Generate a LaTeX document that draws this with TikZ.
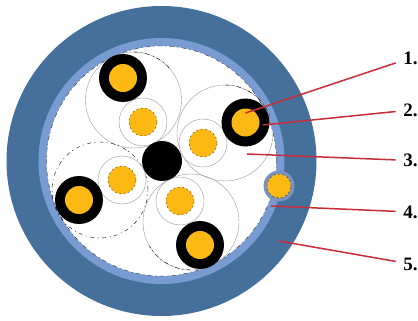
\documentclass[tikz,border=0pt]{standalone}
\usepackage{fontspec}
\setmainfont{Liberation Serif}
\definecolor{jacket}{RGB}{68,112,155}
\definecolor{shield}{RGB}{120,155,210}
\definecolor{core}{RGB}{253,185,19}
\definecolor{lead}{RGB}{200,45,55}
\tikzset{
  bundle/.style={draw=black!40,line width=0.4pt},
  bundledash/.style={draw=black,line width=0.4pt,dash pattern=on 4pt off 4pt on 1pt off 3pt},
  leadline/.style={draw=lead,line width=1.5pt},
  numlabel/.style={font=\bfseries\fontsize{19}{19}\selectfont,inner xsep=7.5pt,inner ysep=0pt},
}
\begin{document}
\begin{tikzpicture}[x=1pt,y=-1pt]
\useasboundingbox (0,0) rectangle (418,321);
\fill[white] (0,0) rectangle (418,321);
% Sheath
\coordinate (C) at (161.5,161);
\fill[jacket] (C) circle (155pt);
\fill[shield] (C) circle (123pt);
\fill[white] (C) circle (115pt);
\draw[bundledash,line width=0.3pt] (C) circle (115pt);
% Pair bundles
\draw[bundle] (133.5,100) circle (48pt);
\draw[bundle] (225,133) circle (48pt);
\draw[bundle] (191,222) circle (48pt);
\draw[bundledash] (100,190) circle (48pt);
\draw[bundledash] (225,85) arc (90:20:48pt);
\draw[bundledash] (133.5,52) arc (90:40:48pt);
\draw[bundledash] (191,270) arc (-90:-150:48pt);
% Insulated wires
\foreach \x/\y in {143/122, 203/143, 122/180, 180/201}{
  \fill[white] (\x,\y) circle (24pt);
  \draw[bundle] (\x,\y) circle (24pt);
  \fill[core] (\x,\y) circle (14pt);
  \draw[black,line width=0.3pt,dash pattern=on 1.5pt off 3pt] (\x,\y) circle (14pt);
}
\foreach \x/\y in {123/78, 245.5/122.5, 79/200, 200/245}{
  \fill[black] (\x,\y) circle (24pt);
  \fill[core] (\x,\y) circle (14pt);
}
% Centre filler
\fill[black] (162,161) circle (20pt);
% Drain wire
\fill[shield!75!gray] (279,186) circle (15.5pt);
\fill[core] (279,186) circle (12pt);
\draw[black,line width=0.3pt,dash pattern=on 1.5pt off 3pt] (279,186) circle (12pt);
% Labels
\coordinate (W1) at (245.5,113);
\coordinate (W2) at (263,125);
\coordinate (W3) at (247,154);
\coordinate (W4) at (271,206);
\coordinate (W5) at (279,241);
\node[numlabel] (L1) at (410.5,58) {1.};
\node[numlabel] (L2) at (410.5,110) {2.};
\node[numlabel] (L3) at (410.5,160.5) {3.};
\node[numlabel] (L4) at (410.5,212) {4.};
\node[numlabel] (L5) at (410.5,264) {5.};
\draw[leadline] (W1) -- (L1);
\draw[leadline] (W2) -- (L2);
\draw[leadline] (W3) -- (L3);
\draw[leadline] (W4) -- (L4);
\draw[leadline] (W5) -- (L5);
\end{tikzpicture}
\end{document}
